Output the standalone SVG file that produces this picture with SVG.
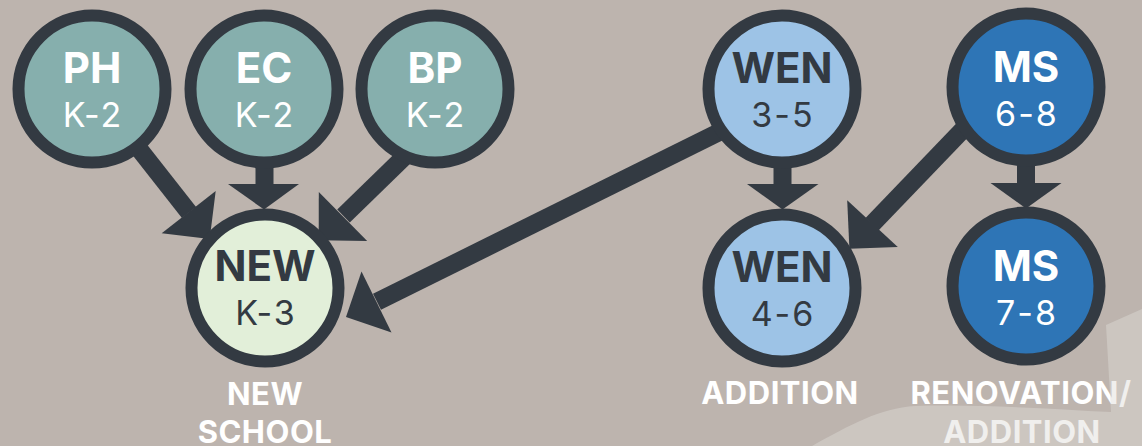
<svg xmlns="http://www.w3.org/2000/svg" width="1142" height="446" viewBox="0 0 1142 446">
<style>
.bg{fill:#bdb4ae}
.ring{stroke:#333a42;stroke-width:12}
.teal{fill:#86afad}
.newc{fill:#e2efd9}
.lblue{fill:#9dc3e6}
.dblue{fill:#2e75b6}
.line{stroke:#333a42;stroke-width:18;fill:none}
.head{fill:#333a42}
.t{font-family:Inter,"Liberation Sans",sans-serif;text-anchor:middle}
.title{font-size:42px;font-weight:700}
.sub{font-size:34px;font-weight:400;letter-spacing:2px}
.w{fill:#ffffff}
.d{fill:#333a42}
.cap{font-size:31px;font-weight:700;fill:#ffffff;letter-spacing:0.5px}
.overlay{fill:#dedbd8;opacity:0.45}
</style>
<rect class="bg" x="0" y="0" width="1142" height="446"/>

<g id="connectors">
  <!-- PH -> NEW -->
  <line class="line" x1="92" y1="89" x2="189" y2="212.5"/>
  <polygon class="head" points="215.7,191 161.7,233.3 209.7,239"/>
  <!-- EC -> NEW -->
  <line class="line" x1="264.5" y1="89" x2="264.5" y2="185"/>
  <polygon class="head" points="228,184 299,184 264,209.5"/>
  <!-- BP -> NEW -->
  <line class="line" x1="435" y1="127" x2="343.5" y2="216"/>
  <polygon class="head" points="318.8,191.9 367.2,241.1 318.7,240.3"/>
  <!-- WEN 3-5 -> NEW -->
  <line class="line" x1="732" y1="125.7" x2="377" y2="301.8"/>
  <polygon class="head" points="361.5,271.5 391.5,332.5 346,317"/>
  <!-- WEN 3-5 -> WEN 4-6 -->
  <line class="line" x1="782.5" y1="89" x2="782.5" y2="185"/>
  <polygon class="head" points="747,184 818.5,184 782.5,209.5"/>
  <!-- MS 6-8 -> WEN 4-6 -->
  <line class="line" x1="974.3" y1="117.8" x2="872" y2="224.2"/>
  <polygon class="head" points="847.2,200.3 897.8,247.1 849.4,248.7"/>
  <!-- MS 6-8 -> MS 7-8 -->
  <line class="line" x1="1026" y1="87" x2="1026" y2="184"/>
  <polygon class="head" points="990.5,183 1061.5,183 1026,208.5"/>
</g>

<g id="node-ph">
  <circle class="ring teal" cx="92" cy="89" r="73.5"/>
  <text class="t title w" x="92" y="83">PH</text>
  <text class="t sub w" x="93" y="127">K-2</text>
</g>
<g id="node-ec">
  <circle class="ring teal" cx="264" cy="89" r="73.5"/>
  <text class="t title w" x="264" y="83">EC</text>
  <text class="t sub w" x="265" y="127">K-2</text>
</g>
<g id="node-bp">
  <circle class="ring teal" cx="435" cy="89" r="73.5"/>
  <text class="t title w" x="435" y="83">BP</text>
  <text class="t sub w" x="436" y="127">K-2</text>
</g>
<g id="node-new">
  <circle class="ring newc" cx="265" cy="288" r="73.5"/>
  <text class="t title d" x="265" y="281">NEW</text>
  <text class="t sub d" x="266" y="325">K-3</text>
</g>
<g id="node-wen35">
  <circle class="ring lblue" cx="782" cy="89" r="73.5"/>
  <text class="t title d" x="782" y="83">WEN</text>
  <text class="t sub d" x="783" y="127">3-5</text>
</g>
<g id="node-wen46">
  <circle class="ring lblue" cx="782" cy="288" r="73.5"/>
  <text class="t title d" x="782" y="282">WEN</text>
  <text class="t sub d" x="783" y="326">4-6</text>
</g>
<g id="node-ms68">
  <circle class="ring dblue" cx="1026" cy="87" r="73.5"/>
  <text class="t title w" x="1026" y="82">MS</text>
  <text class="t sub w" x="1027" y="126">6-8</text>
</g>
<g id="node-ms78">
  <circle class="ring dblue" cx="1026" cy="286" r="73.5"/>
  <text class="t title w" x="1026" y="281">MS</text>
  <text class="t sub w" x="1027" y="325">7-8</text>
</g>

<g id="captions">
  <text class="t cap" x="265" y="405">NEW</text>
  <text class="t cap" x="265" y="443">SCHOOL</text>
  <text class="t cap" x="780" y="404">ADDITION</text>
  <text class="t cap" x="1021" y="404">RENOVATION/</text>
  <text class="t cap" x="1022" y="443">ADDITION</text>
</g>

<path class="overlay" d="M 812 446 C 850 425 880 408 915 406 C 980 404 1050 409 1111 412 L 1106 325 L 1142 309 L 1142 446 Z"/>
</svg>
